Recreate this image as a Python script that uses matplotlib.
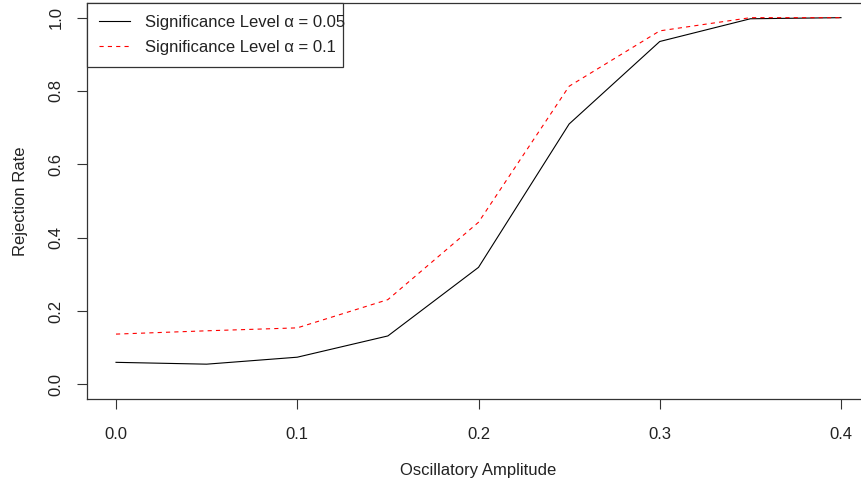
import matplotlib
matplotlib.use("Agg")
import matplotlib.pyplot as plt
from matplotlib.patches import Rectangle

plt.rcParams['font.family'] = ['Liberation Sans', 'DejaVu Sans']
plt.rcParams['lines.scale_dashes'] = False

# data
amplitude = [0.0, 0.05, 0.1, 0.15, 0.2, 0.25, 0.3, 0.35, 0.4]
rate_005 = [0.060, 0.055, 0.074, 0.132, 0.319, 0.710, 0.935, 0.997, 1.0]
rate_01 = [0.137, 0.146, 0.154, 0.231, 0.442, 0.813, 0.964, 1.0, 1.0]
xticks = [0.0, 0.1, 0.2, 0.3, 0.4]
yticks = [0.0, 0.2, 0.4, 0.6, 0.8, 1.0]

W, H = 861, 483
fig = plt.figure(figsize=(W / 100, H / 100), dpi=100)
# box runs past the right edge, like the reference
ax = fig.add_axes([87 / W, (H - 399) / H, (870 - 87) / W, (399 - 3) / H])

ax.plot(amplitude, rate_005, color='black', lw=0.8, label='Significance Level α = 0.05')
ax.plot(amplitude, rate_01, color='red', lw=0.8, dashes=(3, 3), label='Significance Level α = 0.1')

ax.set_xlim(-0.016, 0.416)
ax.set_ylim(-0.04, 1.04)
ax.set_xticks(xticks)
ax.set_xticklabels([f'{v:.1f}' for v in xticks])
ax.set_yticks(yticks)
ax.set_yticklabels([f'{v:.1f}' for v in yticks], rotation=90, va='center')
ax.tick_params(length=7, width=0.8, color='#333333', labelsize=12, labelcolor='#222222')
ax.tick_params(axis='x', pad=13)
ax.tick_params(axis='y', pad=10)
for s in ax.spines.values():
    s.set_color('#333333')
    s.set_linewidth(0.9)

ax.set_xlabel('Oscillatory Amplitude', fontsize=12, color='#222222', labelpad=15)
ax.set_ylabel('Rejection Rate', fontsize=12, color='#222222', labelpad=15)

# R-style legend: text runs slightly past the box, so the box is drawn by hand
leg = ax.legend(loc='upper left', bbox_to_anchor=(0, 1), borderaxespad=0, frameon=False,
                fontsize=12, handlelength=1.9, handletextpad=0.9, borderpad=0.7,
                labelspacing=0.6)
leg.set_zorder(5)
for t in leg.get_texts():
    t.set_color('#222222')
box = Rectangle((87 / W, (H - 67) / H), (343 - 87) / W, 64 / H, transform=fig.transFigure,
                facecolor='white', edgecolor='#333333', lw=0.9, zorder=4)
ax.add_artist(box)
box.set_clip_on(False)

fig.savefig('out.png', dpi=100)
